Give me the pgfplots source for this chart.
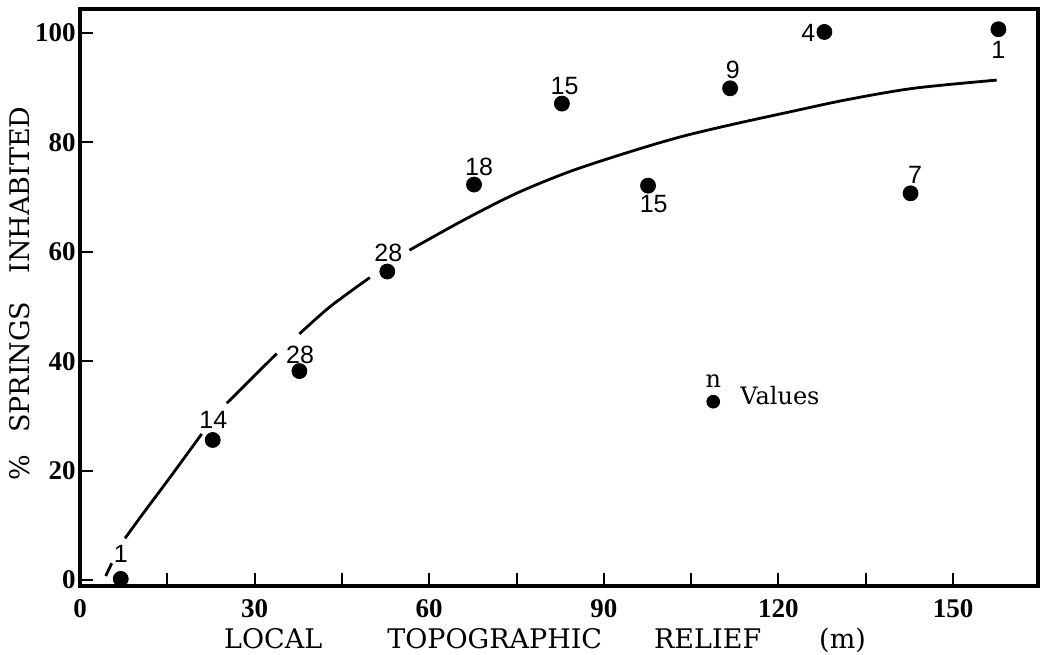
\documentclass[border=0pt]{standalone}
\usepackage{pgfplots}
\pgfplotsset{compat=1.18}
\usepackage{pgfplotstable}
\usepackage{fontspec}
\setmainfont{DejaVu Serif}
\newfontfamily\tickfont{Liberation Serif}
\newfontfamily\labfont{Liberation Sans}

\pgfplotstableread{
x y lab dx dy
7.0 0.2 1 0 12.5
22.8 25.6 14 0.3 10
37.7 38.2 28 0.3 8
52.8 56.4 28 0.5 9.2
67.7 72.3 18 2.5 8.8
82.8 87.1 15 1.3 8.7
97.6 72.1 15 2.8 -9.2
111.7 89.9 9 1.3 9.2
127.9 100.2 4 -8 -0.3
142.7 70.7 7 2.2 9.2
157.8 100.7 1 0 -10.3
}\springs

\begin{document}
\begin{tikzpicture}
\begin{axis}[
  scale only axis, width=479pt, height=288.5pt,
  xmin=0, xmax=164.6, ymin=-1.1, ymax=104.4,
  clip=false,
  axis line style={line width=1.6pt},
  xtick={0,30,...,150}, minor xtick={15,45,...,135},
  ytick={0,20,...,100},
  xtick pos=bottom, ytick pos=left,
  tick align=inside,
  major tick length=6.5pt, minor tick length=6.5pt,
  every tick/.append style={black, line width=1pt},
  every minor tick/.append style={black, line width=1pt},
  /pgf/number format/assume math mode=true,
  ticklabel style={font=\tickfont\bfseries\fontsize{13.5}{14}\selectfont},
  yticklabel style={anchor=east, inner sep=0pt, xshift=-2pt},
  xticklabel style={anchor=north, inner sep=0pt, yshift=-6.5pt},
  xlabel={LOCAL\hspace{32.5pt}TOPOGRAPHIC\hspace{26pt}RELIEF\hspace{29pt}(m)},
  ylabel={\%\hspace{11pt}SPRINGS\hspace{14pt}INHABITED},
  xlabel style={at={(axis description cs:0.4854,-0.0936)}, anchor=center, font=\fontsize{13.5}{14}\selectfont},
  ylabel style={at={(axis description cs:-0.0626,0.507)}, anchor=center, font=\fontsize{13.5}{14}\selectfont},
]
% fitted curve, drawn in pieces with gaps at the labels
\addplot[black, line width=1.4pt] coordinates {(4.42,0.73) (5.45,3.05)};
\addplot[black, line width=1.4pt, smooth] coordinates {(7.73,7.62) (10.87,12.2) (13.75,16.3) (16.6,20.4) (20.91,26.7)};
\addplot[black, line width=1.4pt, smooth] coordinates {(25.2,32.3) (33.8,41.4)};
\addplot[black, line width=1.4pt, smooth] coordinates {(37.7,45.0) (43.0,50.0) (49.8,55.3)};
\addplot[black, line width=1.4pt, smooth] coordinates {(56.6,60.3) (65.9,65.8) (75.0,70.7) (84.2,74.7) (94.5,78.3) (103.1,81.0) (111.7,83.2) (122.0,85.6) (131.7,87.8) (143.2,89.9) (157.5,91.4)};
% data points with n values
\addplot[only marks, mark=*, mark size=3.75pt, black,
  nodes near coords, point meta=explicit symbolic,
  nodes near coords align={anchor=center},
  visualization depends on={\thisrow{dx} \as \dxv},
  visualization depends on={\thisrow{dy} \as \dyv},
  every node near coord/.append style={xshift=\dxv pt, yshift=\dyv pt, inner sep=0pt, font=\labfont\fontsize{12.5}{13}\selectfont},
] table[x=x, y=y, meta=lab] {\springs};
% legend
\addplot[only marks, mark=*, mark size=3.2pt, black] coordinates {(108.8,32.6)};
\node[anchor=base, inner sep=0pt, font=\fontsize{12}{12}\selectfont] at (axis cs:108.8,35.2) {n};
\node[anchor=base west, inner sep=0pt, font=\fontsize{12}{12}\selectfont] at (axis cs:113.4,32.0) {Values};
\end{axis}
\pgfresetboundingbox
\path[use as bounding box] ([xshift=-40pt,yshift=-34pt]current axis.south west) rectangle ([xshift=2pt,yshift=4.5pt]current axis.north east);
\end{tikzpicture}
\end{document}
